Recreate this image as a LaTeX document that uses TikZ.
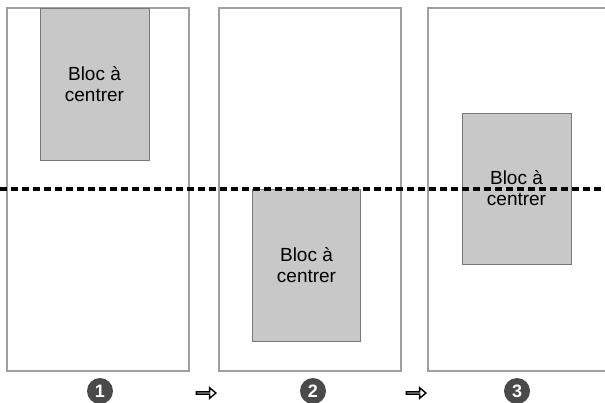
\documentclass[tikz,border=0pt]{standalone}
\usepackage{fontspec}
\setmainfont{Liberation Sans}
\usetikzlibrary{positioning, shapes.arrows}
\definecolor{PanelGray}{RGB}{160, 160, 160}
\definecolor{BlocFill}{RGB}{200, 200, 200}
\definecolor{BlocEdge}{RGB}{120, 120, 120}
\definecolor{NumGray}{RGB}{74, 74, 74}

\begin{document}
\begin{tikzpicture}[
  x=1pt, y=-1pt,
  every node/.style={font=\fontsize{19}{21}\selectfont},
  panel/.style={draw=PanelGray, line width=1.4pt, fill=white,
                minimum width=182pt, minimum height=363pt, inner sep=0pt},
  bloc/.style={draw=BlocEdge, line width=0.9pt, fill=BlocFill, align=center,
               minimum width=109pt, minimum height=152pt, inner sep=0pt},
  num/.style={circle, fill=NumGray, text=white, minimum size=26pt, inner sep=0pt,
              font=\fontsize{18}{18}\selectfont\bfseries},
  step arrow/.style={single arrow, draw=black, fill=white, line width=1.4pt,
                     inner sep=0pt, minimum width=10.5pt, minimum height=19.5pt,
                     single arrow head extend=2.6pt, single arrow tip angle=80},
  axis/.style={line width=3.2pt, dash pattern=on 7pt off 4pt}
]
  \clip (0,0) rectangle (605,402);
  \fill[white] (0,0) rectangle (605,402);

  %% Panels
  \node[panel] (p1) at ( 98,189.5) {};
  \node[panel] (p2) at (310,189.5) {};
  \node[panel] (p3) at (519,189.5) {};

  %% Blocks to centre
  \node[bloc]                     (b1) at ( 94.5, 84.0) {Bloc à\\centrer};
  \node[bloc, minimum width=108pt] (b2) at (306.5,265.0) {Bloc à\\centrer};
  \node[bloc, minimum height=151pt] (b3) at (516.5,188.5) {Bloc à\\centrer};

  %% Centre line
  \coordinate (axisL) at (0,189);
  \coordinate (axisR) at (605,189);
  \draw[axis] (axisL) -- (axisR);

  %% Steps
  \node[num]        (n1) at (100,391) {1};
  \node[step arrow] (a1) at (205.5,393) {};
  \node[num]        (n2) at (313,391) {2};
  \node[step arrow] (a2) at (415.5,393) {};
  \node[num]        (n3) at (517,391) {3};
\end{tikzpicture}
\end{document}
